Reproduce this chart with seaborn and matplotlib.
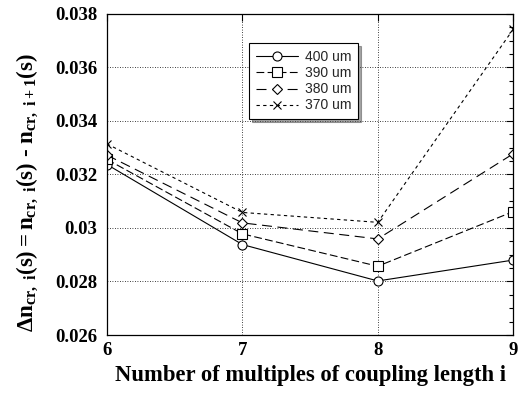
import numpy as np
import pandas as pd
import seaborn as sns
import matplotlib.pyplot as plt
from matplotlib.ticker import MultipleLocator

# data
multiples = [6, 7, 8, 9]
n400 = [0.03237, 0.02938, 0.02802, 0.02880]
n390 = [0.03256, 0.02978, 0.02857, 0.03061]
n380 = [0.03272, 0.03019, 0.02959, 0.03277]
n370 = [0.03314, 0.03058, 0.03021, 0.03742]
series_labels = ["400 um", "390 um", "380 um", "370 um"]
y_ticks = [0.026, 0.028, 0.030, 0.032, 0.034, 0.036, 0.038]
y_tick_labels = ["0.026", "0.028", "0.03", "0.032", "0.034", "0.036", "0.038"]

sns.set_theme(style="white")
plt.rcParams["mathtext.fontset"] = "custom"
plt.rcParams["mathtext.rm"] = "Liberation Serif:bold"
plt.rcParams["mathtext.it"] = "Liberation Serif:bold"
plt.rcParams["mathtext.bf"] = "Liberation Serif:bold"

fig = plt.figure(figsize=(5.18, 3.96), dpi=100)
ax = fig.add_axes([0.2066, 0.154, 0.784, 0.811])

styles = [
    ("o", "-"),
    ("s", (0, (7, 3))),
    ("D", (0, (9, 5))),
    ("x", (0, (3, 3))),
]
for vals, lab, (mk, ls) in zip([n400, n390, n380, n370], series_labels, styles):
    df = pd.DataFrame({"i": multiples, "dn": vals})
    ms = 5 if mk == "D" else 6.5
    if mk == "x":
        ms = 6
    sns.lineplot(data=df, x="i", y="dn", ax=ax, color="black", linewidth=0.8,
                 linestyle=ls, marker=mk, markersize=ms, markerfacecolor="white",
                 markeredgecolor="black", markeredgewidth=0.8, label=lab)

ax.set_xlim(6, 9)
ax.set_ylim(0.026, 0.038)
ax.set_xticks(multiples)
ax.set_yticks(y_ticks)
ax.set_yticklabels(y_tick_labels)
ax.yaxis.set_minor_locator(MultipleLocator(0.0005))
ax.tick_params(axis="both", which="both", direction="in", top=True, right=True,
               color="black", width=0.8)
ax.tick_params(axis="both", which="major", length=5, pad=7)
ax.tick_params(axis="x", which="major", pad=5)
ax.tick_params(axis="y", which="minor", length=3)
ax.tick_params(axis="x", which="minor", length=0)
for t in ax.get_xticklabels() + ax.get_yticklabels():
    t.set_fontfamily("Liberation Serif")
    t.set_fontweight("bold")
    t.set_fontsize(13.5)
    t.set_color("black")

ax.grid(True, which="major", color="black", linestyle=(0, (1, 2)), linewidth=0.6)
for s in ax.spines.values():
    s.set_color("black")
    s.set_linewidth(0.9)

ax.set_xlabel("Number of multiples of coupling length i", fontfamily="Liberation Serif",
              fontweight="bold", fontsize=16.3, color="black", labelpad=4)
ax.set_ylabel("$\\Delta n_{cr,\\ i}(s) = n_{cr,\\ i}(s)$ \u2010 $n_{cr,\\ i+1}(s)$",
              fontsize=16.5, color="black", fontfamily="Liberation Serif",
              fontweight="bold")
ax.yaxis.set_label_coords(-0.165, 0.445)

leg = ax.legend(loc="upper left", bbox_to_anchor=(0.333, 0.93), frameon=True,
                fancybox=False, shadow=True, prop={"family": "Liberation Sans", "size": 10},
                handlelength=3.0, borderpad=0.5, labelspacing=0.15, handletextpad=0.5)
leg.get_frame().set_edgecolor("black")
leg.get_frame().set_linewidth(0.8)

fig.savefig("out.png", dpi=100)
